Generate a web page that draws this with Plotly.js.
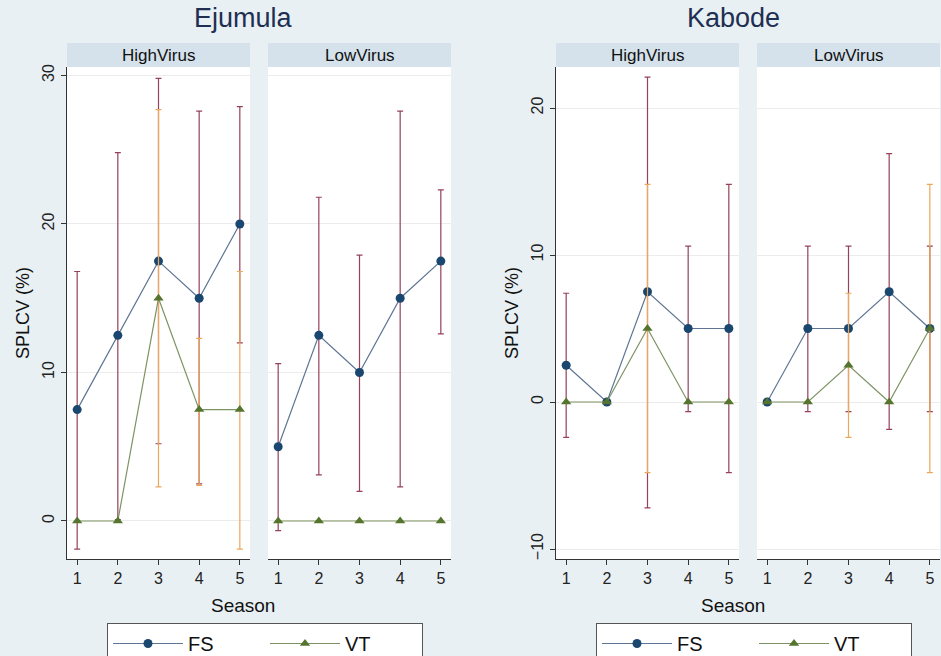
<!DOCTYPE html>
<html>
<head>
<meta charset="utf-8">
<script src="https://cdn.plot.ly/plotly-3.0.1.min.js"></script>
<style>html,body{margin:0;padding:0;background:#e8f0f4;}#chart{width:941px;height:656px;}</style>
</head>
<body>
<div id="chart"></div>
<script>
// ---- data ----
var seasons = [1, 2, 3, 4, 5];
var seasonTicks = ['1', '2', '3', '4', '5'];
var panelNames = ['HighVirus', 'LowVirus'];
var siteNames = ['Ejumula', 'Kabode'];
var seriesNames = ['FS', 'VT'];

// Ejumula, HighVirus
var ejHighFS = [7.5, 12.5, 17.5, 15, 20];
var ejHighFSlo = [-1.9, 0.1, 5.2, 2.5, 12.0];
var ejHighFShi = [16.8, 24.8, 29.8, 27.6, 27.9];
var ejHighVT = [0, 0, 15, 7.5, 7.5];
var ejHighVTlo = [null, null, 2.3, 2.4, -1.9];
var ejHighVThi = [null, null, 27.7, 12.3, 16.8];
// Ejumula, LowVirus
var ejLowFS = [5, 12.5, 10, 15, 17.5];
var ejLowFSlo = [-0.65, 3.1, 2.0, 2.3, 12.6];
var ejLowFShi = [10.6, 21.8, 17.9, 27.6, 22.3];
var ejLowVT = [0, 0, 0, 0, 0];
var ejLowVTlo = [null, null, null, null, null];
var ejLowVThi = [null, null, null, null, null];
// Kabode, HighVirus
var kbHighFS = [2.5, 0, 7.5, 5, 5];
var kbHighFSlo = [-2.4, null, -7.2, -0.66, -4.8];
var kbHighFShi = [7.4, null, 22.1, 10.6, 14.8];
var kbHighVT = [0, 0, 5, 0, 0];
var kbHighVTlo = [null, null, -4.8, null, null];
var kbHighVThi = [null, null, 14.8, null, null];
// Kabode, LowVirus
var kbLowFS = [0, 5, 5, 7.5, 5];
var kbLowFSlo = [null, -0.66, -0.66, -1.86, -0.66];
var kbLowFShi = [null, 10.6, 10.6, 16.9, 10.6];
var kbLowVT = [0, 0, 2.5, 0, 5];
var kbLowVTlo = [null, null, -2.4, null, -4.8];
var kbLowVThi = [null, null, 7.4, null, 14.8];

var ejTicks = [0, 10, 20, 30];
var kbTicks = [-10, 0, 10, 20];

// ---- styles ----
var FONT = 'Liberation Sans, Arial, sans-serif';
var fsMarker = '#1a476f', fsLine = '#5f7593', fsErr = '#96425a';
var vtMarker = '#55752f', vtLine = '#7e9363', vtErr = '#eba85a';

function errUp(v, hi) { return v.map(function (d, i) { return hi[i] === null ? null : hi[i] - d; }); }
function errDn(v, lo) { return v.map(function (d, i) { return lo[i] === null ? null : d - lo[i]; }); }

function mk(name, vals, lo, hi, xa, ya, isFS, legendId, show) {
  return {
    type: 'scatter', mode: 'lines+markers', name: name,
    x: seasons, y: vals, xaxis: xa, yaxis: ya,
    legend: legendId, showlegend: show,
    line: { color: isFS ? fsLine : vtLine, width: 1.2 },
    marker: { color: isFS ? fsMarker : vtMarker, size: 9,
              symbol: isFS ? 'circle' : 'triangle-up' },
    error_y: { type: 'data', symmetric: false, array: errUp(vals, hi), arrayminus: errDn(vals, lo),
               color: isFS ? fsErr : vtErr, thickness: 1.2, width: 3 },
    cliponaxis: false
  };
}

var traces = [
  mk(seriesNames[0], ejHighFS, ejHighFSlo, ejHighFShi, 'x', 'y', true, 'legend', true),
  mk(seriesNames[1], ejHighVT, ejHighVTlo, ejHighVThi, 'x', 'y', false, 'legend', true),
  mk(seriesNames[0], ejLowFS, ejLowFSlo, ejLowFShi, 'x2', 'y2', true, 'legend', false),
  mk(seriesNames[1], ejLowVT, ejLowVTlo, ejLowVThi, 'x2', 'y2', false, 'legend', false),
  mk(seriesNames[0], kbHighFS, kbHighFSlo, kbHighFShi, 'x3', 'y3', true, 'legend2', true),
  mk(seriesNames[1], kbHighVT, kbHighVTlo, kbHighVThi, 'x3', 'y3', false, 'legend2', true),
  mk(seriesNames[0], kbLowFS, kbLowFSlo, kbLowFShi, 'x4', 'y4', true, 'legend2', false),
  mk(seriesNames[1], kbLowVT, kbLowVTlo, kbLowVThi, 'x4', 'y4', false, 'legend2', false)
];

var W = 941, H = 656;
var yTop = 67, yBot = 559, stripTop = 43;
var yDom = [(H - yBot) / H, (H - yTop) / H];
var xDoms = [[67 / W, 250 / W], [268 / W, 451 / W], [556 / W, 739 / W], [757 / W, 940 / W]];

function xax(i, anchor) {
  return {
    domain: xDoms[i], anchor: anchor, range: [0.75, 5.25],
    tickvals: seasons, ticktext: seasonTicks, ticks: 'outside', ticklen: 5, tickwidth: 1,
    tickcolor: '#333', showline: true, linecolor: '#333', linewidth: 1.2,
    showgrid: false, zeroline: false, fixedrange: true,
    tickfont: { family: FONT, size: 16, color: '#222' }
  };
}
function yax(i, anchor, range, ticks, primary) {
  var a = {
    domain: yDom, anchor: anchor, range: range, tickvals: ticks,
    showgrid: true, gridcolor: '#ececec', gridwidth: 1, zeroline: false, fixedrange: true
  };
  if (primary) {
    a.ticks = 'outside'; a.ticklen = 5; a.tickcolor = '#333'; a.tickwidth = 1;
    a.showline = true; a.linecolor = '#333'; a.linewidth = 1.2;
    a.tickangle = -90;
    a.tickfont = { family: FONT, size: 16, color: '#222' };
    a.title = { text: 'SPLCV (%)', font: { family: FONT, size: 18, color: '#111' }, standoff: 6 };
  } else {
    a.showticklabels = false; a.ticks = ''; a.showline = false;
  }
  return a;
}

var ejRange = [-2.56, 30.57];
var kbRange = [-10.68, 22.79];

var shapes = [], annotations = [];
for (var i = 0; i < 4; i++) {
  shapes.push({ type: 'rect', xref: 'paper', yref: 'paper', layer: 'below',
    x0: xDoms[i][0], x1: xDoms[i][1], y0: (H - yTop) / H, y1: (H - stripTop) / H,
    fillcolor: '#d5e2eb', line: { width: 0 } });
  annotations.push({ xref: 'paper', yref: 'paper', x: (xDoms[i][0] + xDoms[i][1]) / 2,
    y: (H - (yTop + stripTop) / 2) / H, xanchor: 'center', yanchor: 'middle', showarrow: false,
    text: panelNames[i % 2], font: { family: FONT, size: 17, color: '#111' } });
}
var titleX = [243 / W, 733 / W];
for (var k = 0; k < 2; k++) {
  annotations.push({ xref: 'paper', yref: 'paper', x: titleX[k], y: (H - 18) / H,
    xanchor: 'center', yanchor: 'middle', showarrow: false, text: siteNames[k],
    font: { family: FONT, size: 27, color: '#1e2f52' } });
  annotations.push({ xref: 'paper', yref: 'paper', x: titleX[k], y: (H - 605) / H,
    xanchor: 'center', yanchor: 'middle', showarrow: false, text: 'Season',
    font: { family: FONT, size: 19, color: '#111' } });
}

function leg(x) {
  return { x: x, y: (H - 623) / H, xanchor: 'left', yanchor: 'top', orientation: 'h',
    bgcolor: '#ffffff', bordercolor: '#555', borderwidth: 1,
    font: { family: FONT, size: 20, color: '#111' }, itemwidth: 70, entrywidth: 72,
    traceorder: 'normal' };
}

var layout = {
  width: W, height: H, margin: { l: 0, r: 0, t: 0, b: 0, autoexpand: false },
  paper_bgcolor: '#e8f0f4', plot_bgcolor: '#ffffff',
  font: { family: FONT },
  xaxis: xax(0, 'y'), yaxis: yax(0, 'x', ejRange, ejTicks, true),
  xaxis2: xax(1, 'y2'), yaxis2: yax(1, 'x2', ejRange, ejTicks, false),
  xaxis3: xax(2, 'y3'), yaxis3: yax(2, 'x3', kbRange, kbTicks, true),
  xaxis4: xax(3, 'y4'), yaxis4: yax(3, 'x4', kbRange, kbTicks, false),
  shapes: shapes, annotations: annotations,
  legend: leg(107 / W), legend2: leg(596 / W),
  showlegend: true
};

Plotly.newPlot('chart', traces, layout, { staticPlot: true, displayModeBar: false });
</script>
</body>
</html>
